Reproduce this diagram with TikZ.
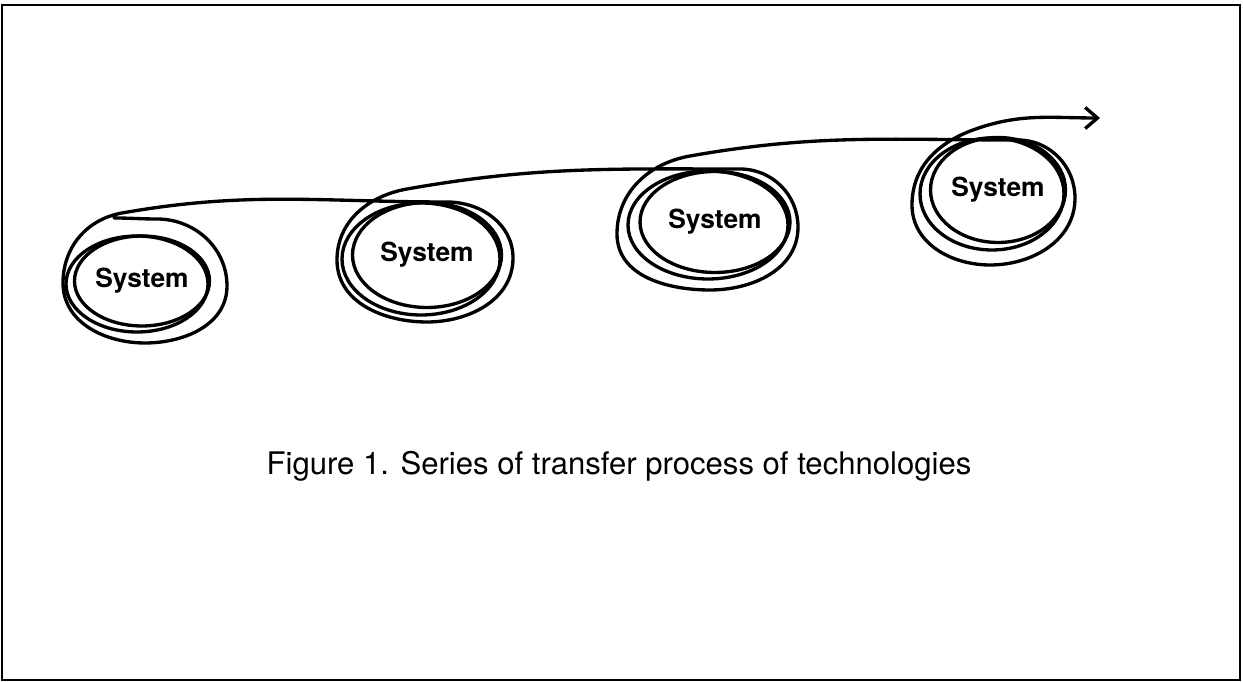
\documentclass[tikz,border=0pt]{standalone}
\usepackage{fontspec}
\setmainfont{TeX Gyre Heros}
\usetikzlibrary{arrows.meta,shapes.geometric}

\begin{document}
\begin{tikzpicture}[x=0.02cm, y=0.02cm,
    sys/.style={ellipse, draw, line width=1.9pt, inner sep=0pt,
        font=\fontsize{15}{17}\selectfont\bfseries},
    trail/.style={line width=1.9pt, line cap=round, line join=round}]

\useasboundingbox (0,0) rectangle (1243,682);
\draw[line width=1.2pt] (2,2) rectangle (1240,677);

% Systems along the transfer path
\foreach \n/\x/\y/\w/\h in {1/142/401/2.7/1.8, 2/427/427/2.98/2.1,
                            3/715/460/3.0/2.02, 4/998/492/2.7/2.1} {
    \node[sys, minimum width=\w cm, minimum height=\h cm] (s\n) at (\x,\y) {System};
}

% second stroke round each system
\foreach \n/\dx/\dy/\rx/\ry in {1/-5/-3/71/48, 2/-6/-4/79/56,
                                3/-7/-3/80/54, 4/-6/-4/72/56} {
    \draw[trail] ([shift={(\dx,\dy)}]s\n.center) ellipse ({\rx} and {\ry});
}

% Transfer path looping round the systems
\draw[trail, -{Straight Barb[length=7pt,width=12pt]}]
    ([shift={(-28,63)}]s1.center) to[out=0,in=180] ([shift={(15,62)}]s1.center)
    to[out=0,in=90] ([shift={(85,-5)}]s1.center)
    to[out=-90,in=0] ([shift={(3,-62)}]s1.center)
    to[out=180,in=-90] ([shift={(-79,-2)}]s1.center)
    to[out=90,in=190] ([shift={(-20,68)}]s1.center)
    % on to the second system
    to[out=10,in=180] ([shift={(20,53)}]s2.center)
    to[out=0,in=90] ([shift={(86,-3)}]s2.center)
    to[out=-90,in=0] ([shift={(0,-67)}]s2.center)
    to[out=180,in=-90] ([shift={(-90,-5)}]s2.center)
    to[out=90,in=190] ([shift={(-20,66)}]s2.center)
    % third system
    to[out=10,in=180] ([shift={(25,53)}]s3.center)
    to[out=0,in=90] ([shift={(83,-5)}]s3.center)
    to[out=-90,in=0] ([shift={(-5,-68)}]s3.center)
    to[out=180,in=-90] ([shift={(-98,-12)}]s3.center)
    to[out=90,in=190] ([shift={(-25,66)}]s3.center)
    % fourth system and away
    to[out=10,in=180] ([shift={(20,50)}]s4.center)
    to[out=0,in=90] ([shift={(77,-8)}]s4.center)
    to[out=-90,in=0] ([shift={(-8,-75)}]s4.center)
    to[out=180,in=-90] ([shift={(-86,-15)}]s4.center)
    to[out=90,in=200] ([shift={(-25,60)}]s4.center)
    to[out=20,in=180] (1100,564);

% Caption
\node[font=\fontsize{17.7}{20}\selectfont, anchor=base] (caption) at (619,207)
    {Figure 1. Series of transfer process of technologies};

\end{tikzpicture}
\end{document}
